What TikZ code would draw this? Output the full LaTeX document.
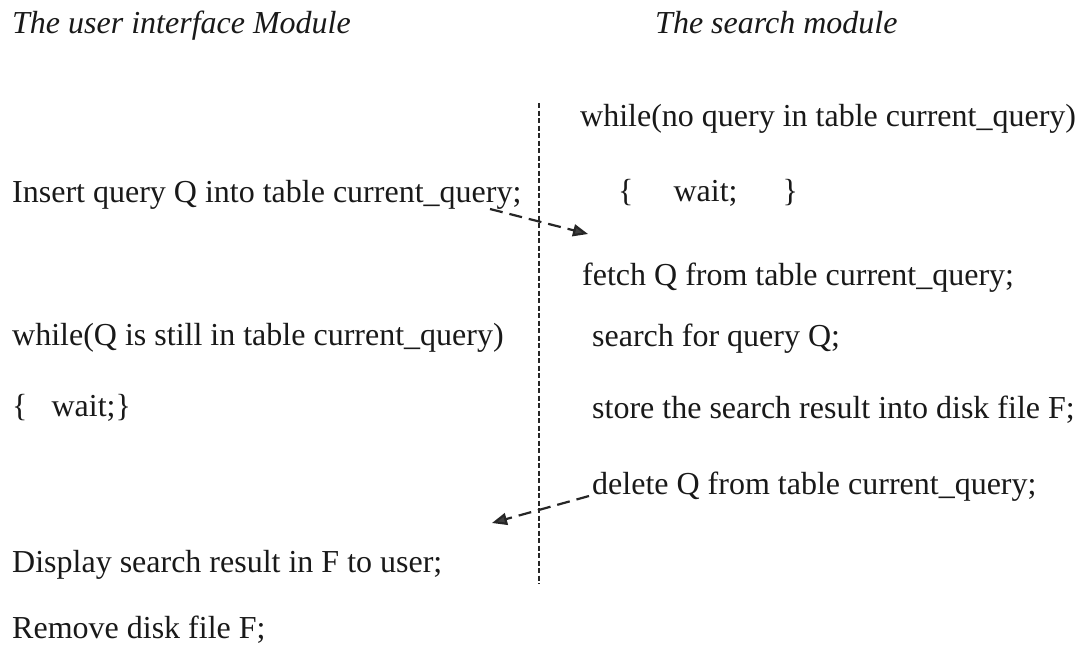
\documentclass[tikz,border=0pt]{standalone}
\usepackage{fontspec}
\setmainfont{Liberation Serif}
\usetikzlibrary{arrows.meta}

\tikzset{
  code/.style={anchor=base west, inner sep=0pt, font=\fontsize{32}{38}\selectfont, text=black!90},
  heading/.style={code, font=\fontsize{32}{38}\selectfont\itshape},
  divider/.style={line width=2pt, dash pattern=on 5pt off 2.5pt, black!85},
  signal/.style={line width=2.2pt, dash pattern=on 13pt off 7pt, black!85,
                 -{Triangle[length=15pt,width=12pt,fill=black!75]}},
}

\begin{document}
\begin{tikzpicture}[x=1pt,y=-1pt]
  \useasboundingbox[fill=white] (0,0) rectangle (1081,653);

  % column headings
  \node[heading] (uihead) at (12,33) {The user interface Module};
  \node[heading] (srhead) at (655,33) {The search module};

  % user interface module
  \node[code] (ins)     at (12,202) {Insert query Q into table current\_query;};
  \node[code] (uiwhile) at (12,345) {while(Q is still in table current\_query)};
  \node[code] (uiwait)  at (12,416) {\{\hspace*{24pt}wait;\}};
  \node[code] (disp)    at (12,572) {Display search result in F to user;};
  \node[code] (rm)      at (12,638) {Remove disk file F;};

  % search module
  \node[code] (srwhile) at (580,126) {while(no query in table current\_query)};
  \node[code] (srwait)  at (618,201) {\{\hspace*{40pt}wait;\hspace*{45pt}\}};
  \node[code] (fetch)   at (582,285) {fetch Q from table current\_query;};
  \node[code] (search)  at (592,346) {search for query Q;};
  \node[code] (store)   at (592,418) {store the search result into disk file F;};
  \node[code] (del)     at (592,494) {delete Q from table current\_query;};

  % boundary between the two modules
  \coordinate (divtop) at (539,103);
  \coordinate (divbot) at (539,584);
  \draw[divider] (divtop) -- (divbot);

  % hand-over signals
  \coordinate (qout) at (490,209);
  \coordinate (qin)  at (588,234);
  \draw[signal] (qout) -- (qin);

  \coordinate (dout) at (589,496);
  \coordinate (din)  at (492,523);
  \draw[signal] (dout) -- (din);
\end{tikzpicture}
\end{document}
